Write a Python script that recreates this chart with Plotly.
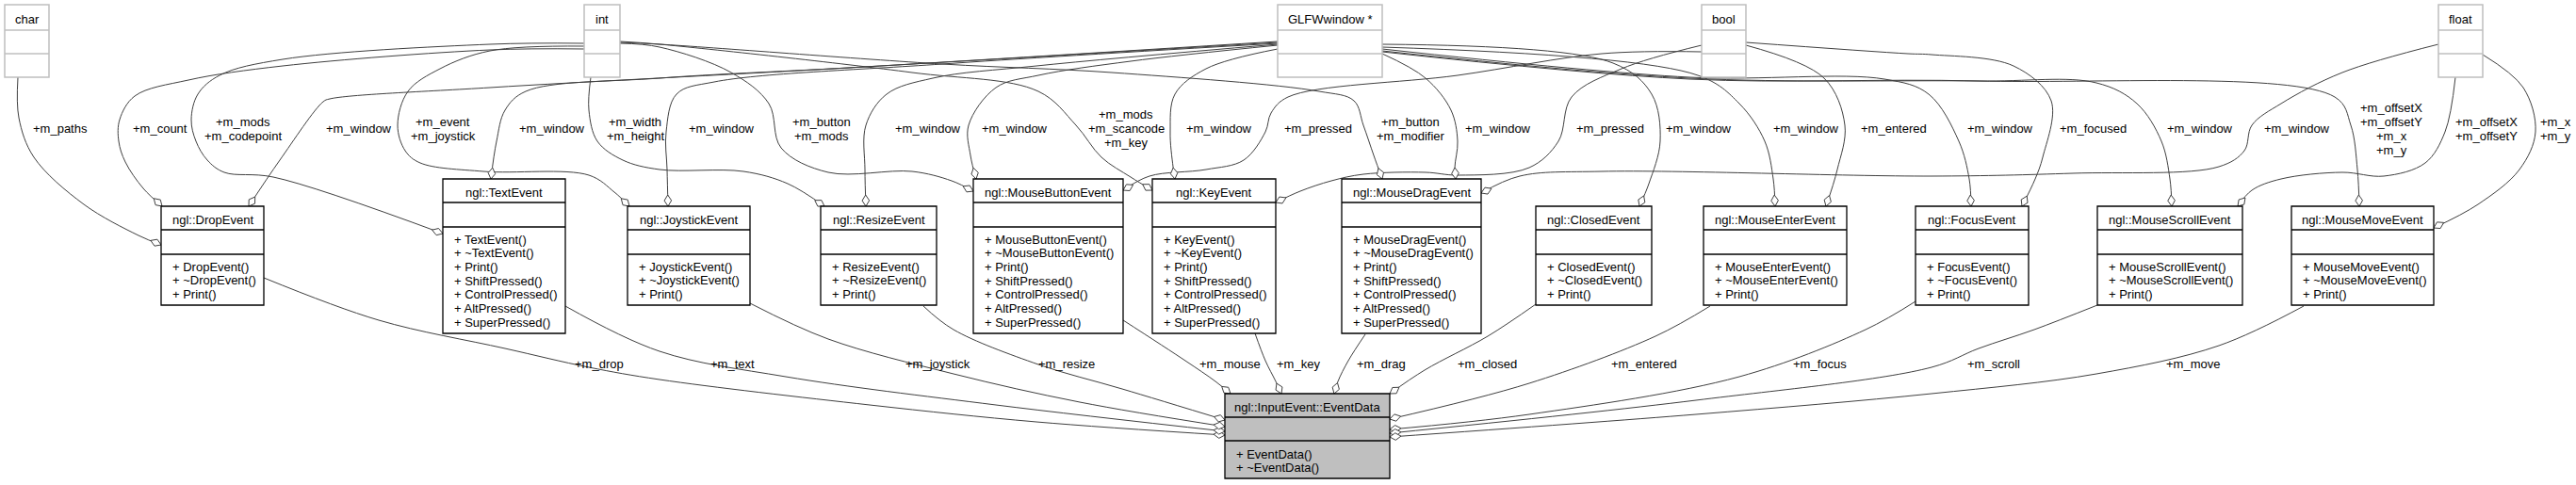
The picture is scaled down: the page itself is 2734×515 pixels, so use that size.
import math
import plotly.graph_objects as go

W, H = 2734, 515

# ---------------- data ----------------
type_names = ["char", "int", "GLFWwindow *", "bool", "float"]

class_names = ["ngl::DropEvent", "ngl::TextEvent", "ngl::JoystickEvent", "ngl::ResizeEvent",
               "ngl::MouseButtonEvent", "ngl::KeyEvent", "ngl::MouseDragEvent", "ngl::ClosedEvent",
               "ngl::MouseEnterEvent", "ngl::FocusEvent", "ngl::MouseScrollEvent", "ngl::MouseMoveEvent"]

class_methods = [
    ["+ DropEvent()", "+ ~DropEvent()", "+ Print()"],
    ["+ TextEvent()", "+ ~TextEvent()", "+ Print()", "+ ShiftPressed()", "+ ControlPressed()", "+ AltPressed()", "+ SuperPressed()"],
    ["+ JoystickEvent()", "+ ~JoystickEvent()", "+ Print()"],
    ["+ ResizeEvent()", "+ ~ResizeEvent()", "+ Print()"],
    ["+ MouseButtonEvent()", "+ ~MouseButtonEvent()", "+ Print()", "+ ShiftPressed()", "+ ControlPressed()", "+ AltPressed()", "+ SuperPressed()"],
    ["+ KeyEvent()", "+ ~KeyEvent()", "+ Print()", "+ ShiftPressed()", "+ ControlPressed()", "+ AltPressed()", "+ SuperPressed()"],
    ["+ MouseDragEvent()", "+ ~MouseDragEvent()", "+ Print()", "+ ShiftPressed()", "+ ControlPressed()", "+ AltPressed()", "+ SuperPressed()"],
    ["+ ClosedEvent()", "+ ~ClosedEvent()", "+ Print()"],
    ["+ MouseEnterEvent()", "+ ~MouseEnterEvent()", "+ Print()"],
    ["+ FocusEvent()", "+ ~FocusEvent()", "+ Print()"],
    ["+ MouseScrollEvent()", "+ ~MouseScrollEvent()", "+ Print()"],
    ["+ MouseMoveEvent()", "+ ~MouseMoveEvent()", "+ Print()"],
]

target_name = "ngl::InputEvent::EventData"
target_methods = ["+ EventData()", "+ ~EventData()"]

# member edges: type -> class (label)
top_labels = ["+m_paths", "+m_count", "+m_mods\n+m_codepoint", "+m_window", "+m_event\n+m_joystick",
              "+m_window", "+m_width\n+m_height", "+m_window", "+m_button\n+m_mods", "+m_window",
              "+m_window", "+m_mods\n+m_scancode\n+m_key", "+m_window", "+m_pressed",
              "+m_button\n+m_modifier", "+m_window", "+m_pressed", "+m_window", "+m_window",
              "+m_entered", "+m_window", "+m_focused", "+m_window", "+m_window",
              "+m_offsetX\n+m_offsetY\n+m_x\n+m_y", "+m_offsetX\n+m_offsetY", "+m_x\n+m_y"]

# member edges: class -> EventData
bottom_labels = ["+m_drop", "+m_text", "+m_joystick", "+m_resize", "+m_mouse", "+m_key",
                 "+m_drag", "+m_closed", "+m_entered", "+m_focus", "+m_scroll", "+m_move"]

# ---------------- layout geometry (pixels) ----------------
type_x0 = [5, 620, 1356, 1806, 2588]
type_x1 = [52, 658, 1467, 1853, 2635]
type_rows = [5, 32, 57, 82]

class_x0 = [171, 470, 666, 871, 1033, 1223, 1424, 1630, 1808, 2033, 2226, 2432]
class_x1 = [280, 600, 796, 994, 1192, 1354, 1572, 1753, 1960, 2153, 2380, 2583]
rows_short = [219, 244, 270, 324]
rows_tall = [190, 215, 241, 354]

target_x = [1300, 1475]
target_rows = [418, 443, 468, 508]

top_label_x = [63.5, 170, 258, 381, 470, 586, 674, 766, 872, 985, 1077, 1195, 1294, 1399,
               1497, 1590, 1709, 1803, 1917, 2010, 2123, 2221, 2335, 2438, 2538, 2639, 2712]
bottom_label_x = [636, 777, 995, 1132, 1305, 1378, 1466, 1578, 1745, 1931, 2116, 2327]
bottom_label_y = 385

top_paths = [
    [(19, 82), (20, 125), (36, 167), (89, 217), (147, 250), (171, 260)],
    [(620, 52), (520, 53), (300, 70), (200, 85), (143, 102), (127, 127), (126, 150), (133, 172), (152, 200), (172, 219)],
    [(620, 46), (520, 47), (300, 63), (233, 80), (210, 100), (203, 127), (208, 150), (220, 170), (238, 183), (290, 188), (470, 248)],
    [(1356, 44), (900, 72), (520, 93), (350, 105), (343, 108), (297, 170), (264, 219)],
    [(620, 49), (520, 54), (467, 73), (433, 97), (422, 133), (430, 160), (446, 173), (513, 182), (625, 186), (652, 204), (668, 219)],
    [(1356, 45), (900, 72), (700, 83), (558, 97), (536, 117), (527, 150), (521, 190)],
    [(627, 82), (625, 117), (634, 150), (661, 170), (700, 180), (789, 182), (836, 195), (875, 219)],
    [(1356, 46), (1000, 68), (758, 87), (718, 100), (707, 140), (708, 180), (709, 219)],
    [(658, 46), (700, 50), (776, 77), (816, 110), (829, 157), (879, 183), (968, 182), (1010, 192), (1033, 203)],
    [(1356, 47), (1100, 70), (990, 83), (941, 100), (919, 133), (918, 180), (919, 219)],
    [(1356, 48), (1200, 65), (1102, 80), (1057, 93), (1028, 133), (1030, 165), (1036, 190)],
    [(658, 44), (700, 47), (968, 77), (1102, 97), (1142, 133), (1169, 167), (1200, 188), (1223, 202)],
    [(1356, 52), (1280, 73), (1247, 100), (1242, 140), (1245, 177), (1247, 190)],
    [(1806, 55), (1700, 57), (1547, 80), (1367, 103), (1349, 120), (1343, 140), (1320, 170), (1280, 180), (1220, 187), (1192, 202)],
    [(658, 45), (700, 47), (1000, 68), (1180, 77), (1400, 97), (1437, 107), (1447, 133), (1458, 165), (1467, 190)],
    [(1467, 57), (1513, 83), (1540, 117), (1547, 150), (1544, 178), (1545, 190)],
    [(1806, 48), (1721, 73), (1668, 103), (1654, 150), (1623, 178), (1547, 186), (1513, 183), (1447, 185), (1413, 192), (1380, 203), (1354, 215)],
    [(1467, 47), (1712, 67), (1753, 100), (1762, 150), (1750, 195), (1740, 219)],
    [(1467, 50), (1802, 80), (1846, 110), (1873, 150), (1882, 190), (1884, 219)],
    [(1853, 48), (1936, 83), (1958, 133), (1950, 180), (1938, 219)],
    [(1467, 52), (1793, 82), (2000, 84), (2047, 100), (2079, 150), (2090, 190), (2092, 219)],
    [(1853, 45), (2025, 57), (2050, 58), (2137, 70), (2177, 107), (2168, 167), (2160, 190), (2146, 219)],
    [(1467, 54), (1793, 83), (2100, 86), (2225, 88), (2268, 110), (2294, 150), (2303, 190), (2305, 219)],
    [(1467, 55), (1793, 84), (2100, 86), (2478, 103), (2495, 133), (2502, 180), (2504, 219)],
    [(2588, 47), (2486, 77), (2421, 110), (2390, 133), (2382, 160), (2355, 177), (2200, 184), (2050, 187), (1700, 182), (1613, 187), (1572, 205)],
    [(2606, 82), (2595, 140), (2574, 173), (2530, 187), (2486, 183), (2421, 190), (2390, 202), (2375, 219)],
    [(2635, 58), (2678, 93), (2691, 140), (2674, 180), (2630, 217), (2583, 242)],
]

bottom_paths = [
    [(280, 295), (402, 340), (536, 370), (625, 390), (700, 403), (923, 430), (1100, 448), (1300, 462)],
    [(600, 325), (700, 373), (834, 400), (1057, 430), (1300, 458)],
    [(796, 322), (879, 360), (1012, 397), (1146, 427), (1300, 453)],
    [(980, 325), (1012, 350), (1102, 387), (1191, 413), (1300, 446)],
    [(1192, 340), (1258, 383), (1290, 405), (1306, 418)],
    [(1332, 354), (1343, 383), (1354, 405), (1360, 418)],
    [(1449, 355), (1431, 383), (1420, 405), (1416, 418)],
    [(1630, 323), (1579, 357), (1512, 393), (1475, 418)],
    [(1815, 325), (1757, 357), (1623, 407), (1475, 445)],
    [(2033, 320), (1980, 350), (1846, 400), (1623, 440), (1475, 456)],
    [(2226, 324), (2159, 350), (2100, 370), (2050, 390), (1800, 425), (1475, 460)],
    [(2445, 325), (2355, 367), (2225, 397), (2050, 418), (1800, 440), (1475, 464)],
]

# ---------------- styles ----------------
FONT = "Liberation Sans, Arial, Helvetica, sans-serif"
FS = 13
EDGE = "#404040"
TYPE_BORDER = "#bfbfbf"
CLASS_BORDER = "#000000"
TARGET_FILL = "#bfbfbf"
DY = 1.5  # text vertical nudge

fig = go.Figure()
shapes = []
annotations = []


def text(x, y, s, anchor="center"):
    annotations.append(dict(x=x, y=y + DY, text=s, showarrow=False, xanchor=anchor, yanchor="middle",
                            font=dict(family=FONT, size=FS, color="black"), xref="x", yref="y"))


def box(x0, x1, rows, border, fill, width):
    shapes.append(dict(type="rect", x0=x0, x1=x1, y0=rows[0], y1=rows[3], line=dict(color=border, width=width),
                       fillcolor=fill, xref="x", yref="y", layer="above"))
    for r in rows[1:3]:
        shapes.append(dict(type="line", x0=x0, x1=x1, y0=r, y1=r, line=dict(color=border, width=width),
                           xref="x", yref="y", layer="above"))


def edge(points):
    xs = [p[0] for p in points]
    ys = [p[1] for p in points]
    fig.add_trace(go.Scatter(x=xs, y=ys, mode="lines", line=dict(color=EDGE, width=1, shape="spline", smoothing=1.0),
                             hoverinfo="skip", showlegend=False))


def diamond(points, L=12.0, w=3.8):
    tx, ty = points[-1]
    px, py = points[-2]
    dx, dy = tx - px, ty - py
    n = math.hypot(dx, dy) or 1.0
    dx, dy = dx / n, dy / n
    nx, ny = -dy, dx
    mx, my = tx - dx * L / 2, ty - dy * L / 2
    bx, by = tx - dx * L, ty - dy * L
    xs = [tx, mx + nx * w, bx, mx - nx * w, tx]
    ys = [ty, my + ny * w, by, my - ny * w, ty]
    fig.add_trace(go.Scatter(x=xs, y=ys, mode="lines", fill="toself", fillcolor="white",
                             line=dict(color=EDGE, width=1), hoverinfo="skip", showlegend=False))


def multiline(xc, lines, ytop, step=15.0):
    for i, s in enumerate(lines):
        text(xc, ytop + i * step, s)


# edges
for p in top_paths + bottom_paths:
    edge(p)
for p in top_paths + bottom_paths:
    diamond(p)

# type boxes
for name, x0, x1 in zip(type_names, type_x0, type_x1):
    box(x0, x1, type_rows, TYPE_BORDER, "white", 1.5)
    text((x0 + x1) / 2, (type_rows[0] + type_rows[1]) / 2, name)

# class boxes
for name, meths, x0, x1 in zip(class_names, class_methods, class_x0, class_x1):
    rows = rows_tall if len(meths) > 3 else rows_short
    box(x0, x1, rows, CLASS_BORDER, "white", 1.3)
    text((x0 + x1) / 2, (rows[0] + rows[1]) / 2, name)
    y0 = rows[2] + 11.5
    for i, m in enumerate(meths):
        text(x0 + 10, y0 + i * 14.7, m, anchor="left")

# target box
box(target_x[0], target_x[1], target_rows, CLASS_BORDER, TARGET_FILL, 1.3)
text(sum(target_x) / 2, (target_rows[0] + target_rows[1]) / 2, target_name)
for i, m in enumerate(target_methods):
    text(target_x[0] + 10, target_rows[2] + 12.5 + i * 14.5, m, anchor="left")

# edge labels
for lab, xc in zip(top_labels, top_label_x):
    lines = lab.split("\n")
    ytop = 135 - (len(lines) - 1) * 15 / 2
    multiline(xc, lines, ytop)
for lab, xc in zip(bottom_labels, bottom_label_x):
    text(xc, bottom_label_y, lab)

fig.update_layout(
    width=W, height=H, margin=dict(l=0, r=0, t=0, b=0),
    paper_bgcolor="white", plot_bgcolor="white", showlegend=False,
    xaxis=dict(range=[0, W], visible=False, fixedrange=True),
    yaxis=dict(range=[H, 0], visible=False, fixedrange=True),
    shapes=shapes, annotations=annotations,
)
fig.write_html("out.html", config={"displayModeBar": False},
               post_script="document.body.style.margin='0';document.body.style.overflow='hidden';")
